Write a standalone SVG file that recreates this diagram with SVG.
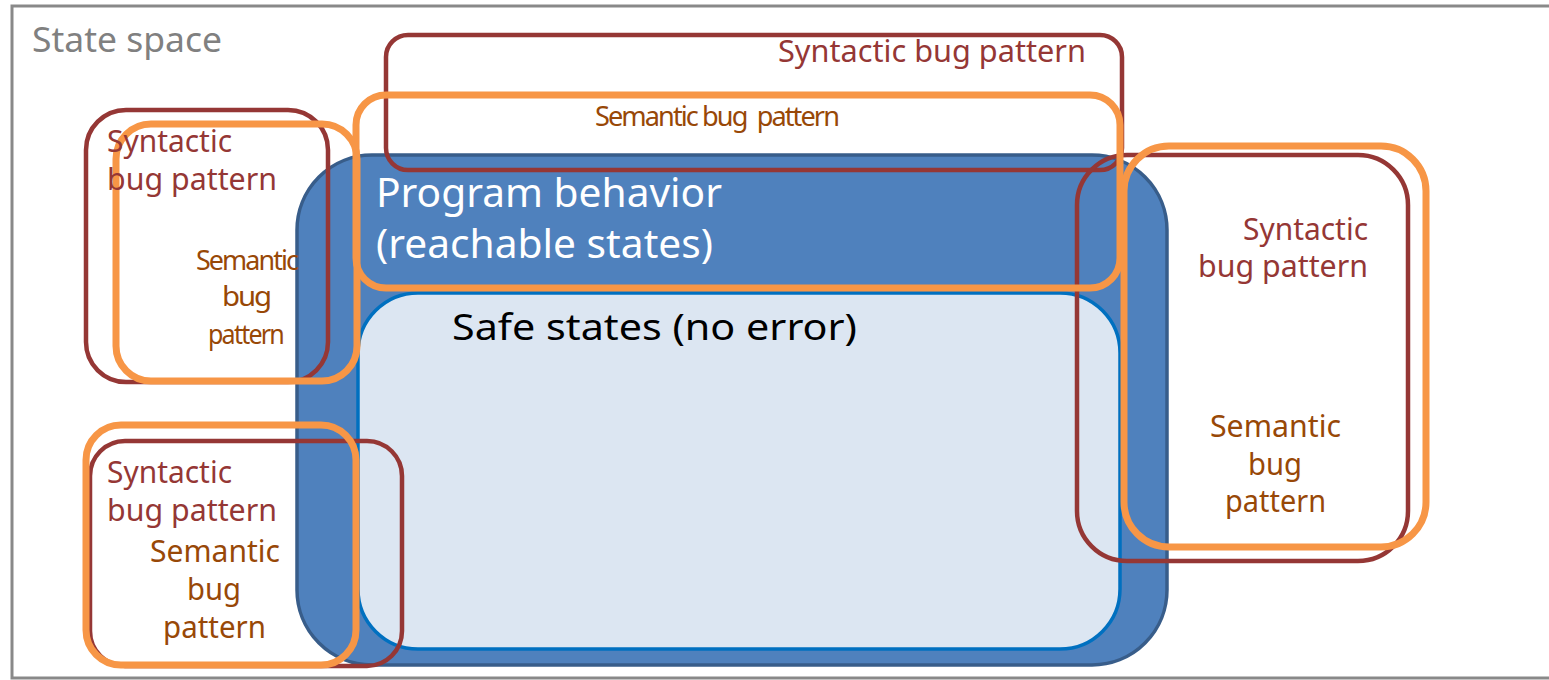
<svg xmlns="http://www.w3.org/2000/svg" width="1549" height="680" viewBox="0 0 1549 680">
  <style>
    .frame { fill: #ffffff; stroke: #898989; stroke-width: 3; }
    .prog { fill: #4f81bd; stroke: #385d8a; stroke-width: 3.5; }
    .safe { fill: #dce6f2; stroke: #0070c0; stroke-width: 3.5; }
    .syn { fill: none; stroke: #953735; stroke-width: 4.5; }
    .sem { fill: none; stroke: #f79646; stroke-width: 7; }
    text { font-family: "Noto Sans", "Open Sans", "Liberation Sans", sans-serif; }
    .t-syn { fill: #953735; font-size: 30px; }
    .t-sem { fill: #984807; font-size: 30px; }
    .t-semc { fill: #984807; font-size: 28px; letter-spacing: -2px; }
    .t-title { fill: #808080; font-size: 35px; }
    .t-prog { fill: #ffffff; font-size: 40px; }
    .t-safe { fill: #000000; font-size: 37px; }
  </style>

  <!-- whole state space -->
  <g id="state-space">
    <rect class="frame" x="12" y="6" width="1545" height="672"/>
    <text class="t-title" x="32" y="52" textLength="190" lengthAdjust="spacingAndGlyphs">State space</text>
  </g>

  <!-- reachable states -->
  <g id="program-behavior">
    <rect class="prog" x="297" y="155" width="870" height="510" rx="75"/>
  </g>

  <g id="safe-states">
    <rect class="safe" x="358" y="293" width="762" height="356" rx="60"/>
    <text class="t-safe" x="452" y="340" textLength="405" lengthAdjust="spacingAndGlyphs">Safe states (no error)</text>
  </g>

  <!-- syntactic pattern regions -->
  <g id="syntactic-top">
    <rect class="syn" x="386" y="35" width="736" height="135" rx="22"/>
  </g>
  <g id="syntactic-left-top">
    <rect class="syn" x="86" y="110" width="242" height="272" rx="40"/>
  </g>
  <g id="syntactic-left-bottom">
    <rect class="syn" x="90" y="441" width="312" height="225" rx="35"/>
  </g>
  <g id="syntactic-right">
    <rect class="syn" x="1077" y="155" width="331" height="406" rx="50"/>
  </g>

  <!-- semantic pattern regions -->
  <g id="semantic-top">
    <rect class="sem" x="356" y="95" width="764" height="193" rx="30"/>
  </g>
  <g id="semantic-left-top">
    <rect class="sem" x="116" y="124" width="241" height="257" rx="35"/>
  </g>
  <g id="semantic-left-bottom">
    <rect class="sem" x="86" y="425" width="270" height="240" rx="35"/>
  </g>
  <g id="semantic-right">
    <rect class="sem" x="1124" y="146" width="302" height="401" rx="45"/>
  </g>

  <!-- labels -->
  <g id="labels">
    <text class="t-prog" x="376" y="207" textLength="346" lengthAdjust="spacingAndGlyphs">Program behavior</text>
    <text class="t-prog" x="376" y="258" textLength="337" lengthAdjust="spacingAndGlyphs">(reachable states)</text>

    <text class="t-syn" x="778" y="62" textLength="308" lengthAdjust="spacingAndGlyphs">Syntactic bug pattern</text>
    <text class="t-semc" x="595" y="126" textLength="243" lengthAdjust="spacingAndGlyphs">Semantic bug&#160; pattern</text>

    <text class="t-syn" x="107" y="152" textLength="125" lengthAdjust="spacingAndGlyphs">Syntactic</text>
    <text class="t-syn" x="107" y="190" textLength="170" lengthAdjust="spacingAndGlyphs">bug pattern</text>
    <text class="t-semc" x="196" y="270" textLength="101" lengthAdjust="spacingAndGlyphs">Semantic</text>
    <text class="t-semc" x="222" y="306" textLength="48" lengthAdjust="spacingAndGlyphs">bug</text>
    <text class="t-semc" x="208" y="344" textLength="75" lengthAdjust="spacingAndGlyphs">pattern</text>

    <text class="t-syn" x="107" y="483" textLength="125" lengthAdjust="spacingAndGlyphs">Syntactic</text>
    <text class="t-syn" x="107" y="521" textLength="170" lengthAdjust="spacingAndGlyphs">bug pattern</text>
    <text class="t-sem" x="150" y="562" textLength="130" lengthAdjust="spacingAndGlyphs">Semantic</text>
    <text class="t-sem" x="187" y="600" textLength="54" lengthAdjust="spacingAndGlyphs">bug</text>
    <text class="t-sem" x="163" y="638" textLength="103" lengthAdjust="spacingAndGlyphs">pattern</text>

    <text class="t-syn" x="1243" y="240" textLength="125" lengthAdjust="spacingAndGlyphs">Syntactic</text>
    <text class="t-syn" x="1198" y="277" textLength="170" lengthAdjust="spacingAndGlyphs">bug pattern</text>
    <text class="t-sem" x="1210" y="437" textLength="131" lengthAdjust="spacingAndGlyphs">Semantic</text>
    <text class="t-sem" x="1248" y="475" textLength="54" lengthAdjust="spacingAndGlyphs">bug</text>
    <text class="t-sem" x="1225" y="512" textLength="101" lengthAdjust="spacingAndGlyphs">pattern</text>
  </g>
</svg>
